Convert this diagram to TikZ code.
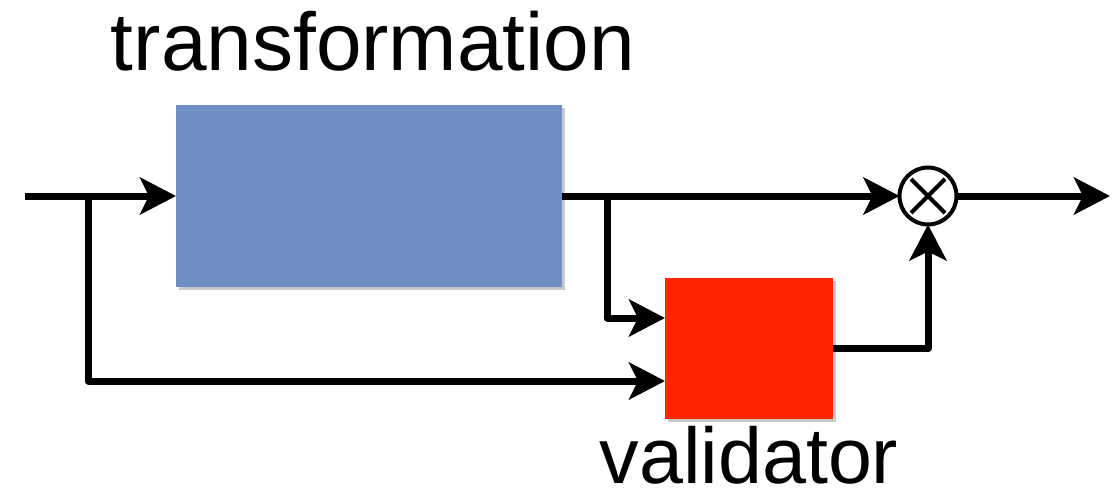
\documentclass[tikz,border=0pt]{standalone}
\usepackage{fontspec}
\setmainfont{Liberation Sans}
\usetikzlibrary{arrows.meta,shadows,calc}

\tikzset{
  block/.style={draw=none, minimum width=#1, inner sep=0pt, outer sep=0pt,
    drop shadow={shadow xshift=2.5pt, shadow yshift=-2.5pt, opacity=0.3, fill=black!70}},
  wire/.style={line width=7pt, line join=round, line cap=butt},
  arr/.style={wire, -{Stealth[length=36pt, width=37pt, inset=9pt]}},
  mixer/.style={circle, draw, line width=4pt, minimum size=57pt, inner sep=0pt, outer sep=0pt},
  label/.style={anchor=base, inner sep=0pt}
}
\definecolor{transblue}{HTML}{6F8FC4}
\definecolor{validred}{HTML}{FF2600}

\begin{document}
\begin{tikzpicture}[x=1pt, y=-1pt]
  \useasboundingbox (0,0) rectangle (1117,496);

  % blocks
  \node[block=386pt, minimum height=182pt, fill=transblue] (trans) at (369,196) {};
  \node[block=168pt, minimum height=141pt, fill=validred] (valid) at (749,348.5) {};
  \node[mixer] (mult) at (928,196) {};
  \draw[line width=4pt] ($(mult.center)+(-17,-17)$) -- ($(mult.center)+(17,17)$)
                        ($(mult.center)+(-17,17)$) -- ($(mult.center)+(17,-17)$);

  % labels
  \node[label, font=\fontsize{82}{90}\selectfont] (ttrans) at (373,70) {transformation};
  \node[label, font=\fontsize{79}{90}\selectfont] (tvalid) at (749,483) {validator};

  % signal points
  \coordinate (in)   at (25,196);
  \coordinate (out)  at (1110,196);
  \coordinate (fork1) at (88,196);
  \coordinate (fork2) at (607,196);
  \coordinate (vin1) at (665,318);
  \coordinate (vin2) at (665,381);

  % connectors
  \draw[arr] (in) -- (trans.west);
  \draw[arr] (trans.east) -- (mult.west);
  \draw[arr] (fork2) |- (vin1);
  \draw[arr] (fork1) |- (vin2);
  \draw[arr] (valid.east) -| (mult.south);
  \draw[arr] (mult.east) -- (out);
\end{tikzpicture}
\end{document}
